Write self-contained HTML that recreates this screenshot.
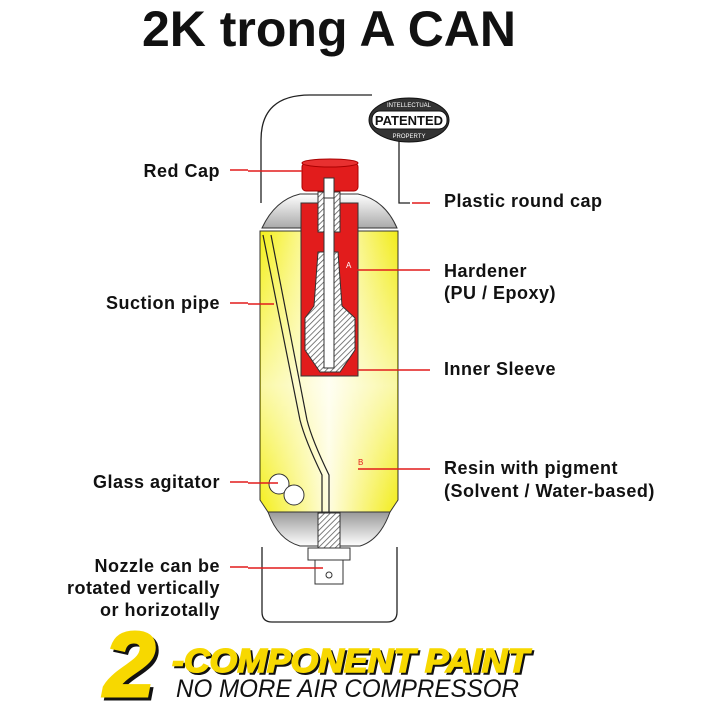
<!DOCTYPE html>
<html><head><meta charset="utf-8"><style>
html,body{margin:0;padding:0;background:#fff;width:707px;height:707px;overflow:hidden}
svg{display:block}
.l{font-family:"Liberation Sans",sans-serif;font-weight:bold;font-size:18px;letter-spacing:0.5px;fill:#111}
</style></head><body>
<svg width="707" height="707" viewBox="0 0 707 707" xmlns="http://www.w3.org/2000/svg">
<defs>
<linearGradient id="yg" x1="0" x2="1" y1="0" y2="0">
<stop offset="0" stop-color="#f4ef1a"/><stop offset="0.5" stop-color="#fffde0"/><stop offset="1" stop-color="#f2ec1a"/></linearGradient>
<linearGradient id="yv" x1="0" x2="0" y1="0" y2="1">
<stop offset="0" stop-color="#fff" stop-opacity="0"/><stop offset="0.55" stop-color="#fff" stop-opacity="0.6"/><stop offset="1" stop-color="#fff" stop-opacity="0"/></linearGradient>
<linearGradient id="gg" x1="0" x2="0" y1="0" y2="1">
<stop offset="0" stop-color="#fff"/><stop offset="1" stop-color="#aaa"/></linearGradient>
<linearGradient id="gg2" x1="0" x2="0" y1="0" y2="1">
<stop offset="0" stop-color="#999"/><stop offset="1" stop-color="#fff"/></linearGradient>
<pattern id="h" width="4" height="4" patternUnits="userSpaceOnUse" patternTransform="rotate(45)">
<rect width="4" height="4" fill="#fff"/><line x1="0" y1="0" x2="0" y2="4" stroke="#555" stroke-width="1.5"/></pattern>
</defs>
<text x="329" y="46" text-anchor="middle" font-family="Liberation Sans,sans-serif" font-weight="bold" font-size="50" fill="#111">2K trong A CAN</text>
<path d="M261,203 L261,140 Q261,95 310,95 L372,95" fill="none" stroke="#222" stroke-width="1.3"/>
<path d="M399,140 L399,203 L410,203" fill="none" stroke="#222" stroke-width="1.3"/>
<ellipse cx="409" cy="120" rx="40" ry="22" fill="#333" stroke="#111"/>
<rect x="372" y="111" width="75" height="18" rx="8" fill="#fff" stroke="#111"/>
<text x="409" y="125" text-anchor="middle" font-family="Liberation Sans,sans-serif" font-weight="bold" font-size="13" fill="#111">PATENTED</text>
<text x="409" y="107" text-anchor="middle" font-family="Liberation Sans,sans-serif" font-size="6" fill="#fff">INTELLECTUAL</text>
<text x="409" y="138" text-anchor="middle" font-family="Liberation Sans,sans-serif" font-size="6" fill="#fff">PROPERTY</text>
<path d="M262,228 Q275,200 300,194 L358,194 Q385,200 397,228 Z" fill="url(#gg)" stroke="#333"/>
<path d="M260,231 L398,231 L398,500 L390,512 L268,512 L260,500 Z" fill="url(#yg)" stroke="#333"/>
<rect x="261" y="232" width="136" height="279" fill="url(#yv)"/>
<path d="M268,512 L390,512 Q380,540 360,546 L300,546 Q278,540 268,512 Z" fill="url(#gg2)" stroke="#333"/>
<path d="M263,235 L300,420 Q305,440 322,475 L322,515" fill="none" stroke="#222" stroke-width="1.2"/>
<path d="M271,235 L307,420 Q312,440 329,475 L329,515" fill="none" stroke="#222" stroke-width="1.2"/>
<circle cx="279" cy="484" r="10" fill="#fff" stroke="#333"/>
<circle cx="294" cy="495" r="10" fill="#fff" stroke="#333"/>
<rect x="301" y="203" width="57" height="173" fill="#e21c1c" stroke="#333"/>
<path d="M318,252 L338,252 L342,306 L355,318 L355,350 L340,372 L320,372 L305,350 L305,318 L314,306 Z" fill="url(#h)" stroke="#333"/>
<rect x="318" y="192" width="22" height="40" fill="url(#h)" stroke="#333"/>
<rect x="324" y="178" width="10" height="190" fill="#fff" stroke="#333"/>
<rect x="302" y="163" width="56" height="28" rx="4" fill="#e21c1c" stroke="#a00"/>
<ellipse cx="330" cy="163" rx="28" ry="4" fill="#e83030" stroke="#a00"/>
<rect x="324" y="178" width="10" height="20" fill="#fff" stroke="#333"/>
<rect x="318" y="513" width="22" height="35" fill="url(#h)" stroke="#333"/>
<rect x="308" y="548" width="42" height="12" fill="#fff" stroke="#333"/>
<rect x="315" y="560" width="28" height="24" fill="#fff" stroke="#333"/>
<circle cx="329" cy="575" r="3" fill="none" stroke="#333"/>
<path d="M262,547 L262,612 Q262,622 272,622 L387,622 Q397,622 397,612 L397,547" fill="none" stroke="#222" stroke-width="1.3"/>
<g stroke="#e21c1c" stroke-width="1.5" fill="none">
<path d="M230,170 L248,170 M248,171 L302,171"/>
<path d="M430,203 L412,203"/>
<path d="M349,270 L430,270"/>
<path d="M358,370 L430,370"/>
<path d="M358,469 L430,469"/>
<path d="M230,303 L248,303 M248,304 L274,304"/>
<path d="M230,482 L248,482 M248,483 L278,483"/>
<path d="M230,567 L248,567 M248,568 L323,568"/>
</g>
<text x="346" y="268" font-family="Liberation Sans,sans-serif" font-size="8" fill="#fff">A</text>
<text x="358" y="465" font-family="Liberation Sans,sans-serif" font-size="8" fill="#e21c1c">B</text>
<text x="220" y="177" text-anchor="end" class="l">Red Cap</text>
<text x="220" y="309" text-anchor="end" class="l">Suction pipe</text>
<text x="220" y="488" text-anchor="end" class="l">Glass agitator</text>
<text x="220" y="572" text-anchor="end" class="l">Nozzle can be</text>
<text x="220" y="594" text-anchor="end" class="l">rotated vertically</text>
<text x="220" y="616" text-anchor="end" class="l">or horizotally</text>
<text x="444" y="207" class="l">Plastic round cap</text>
<text x="444" y="277" class="l">Hardener</text>
<text x="444" y="299" class="l">(PU / Epoxy)</text>
<text x="444" y="375" class="l">Inner Sleeve</text>
<text x="444" y="474" class="l">Resin with pigment</text>
<text x="444" y="497" class="l">(Solvent / Water-based)</text>
<text x="104" y="696" font-family="Liberation Sans,sans-serif" font-weight="bold" font-style="italic" font-size="92" fill="#111" stroke="#111" stroke-width="3" transform="translate(3,3)">2</text>
<text x="104" y="696" font-family="Liberation Sans,sans-serif" font-weight="bold" font-style="italic" font-size="92" fill="#f7d800" stroke="#f7d800" stroke-width="3">2</text>
<text x="172" y="672" font-family="Liberation Sans,sans-serif" font-weight="bold" font-style="italic" font-size="33" fill="#111" stroke="#111" stroke-width="1.5" textLength="357" lengthAdjust="spacingAndGlyphs" transform="translate(2,2)">-COMPONENT PAINT</text>
<text x="172" y="672" font-family="Liberation Sans,sans-serif" font-weight="bold" font-style="italic" font-size="33" fill="#f7d800" stroke="#f7d800" stroke-width="1.5" textLength="357" lengthAdjust="spacingAndGlyphs">-COMPONENT PAINT</text>
<text x="176" y="697" font-family="Liberation Sans,sans-serif" font-style="italic" font-size="25" fill="#111" textLength="343" lengthAdjust="spacingAndGlyphs">NO MORE AIR COMPRESSOR</text>
</svg>
</body></html>
